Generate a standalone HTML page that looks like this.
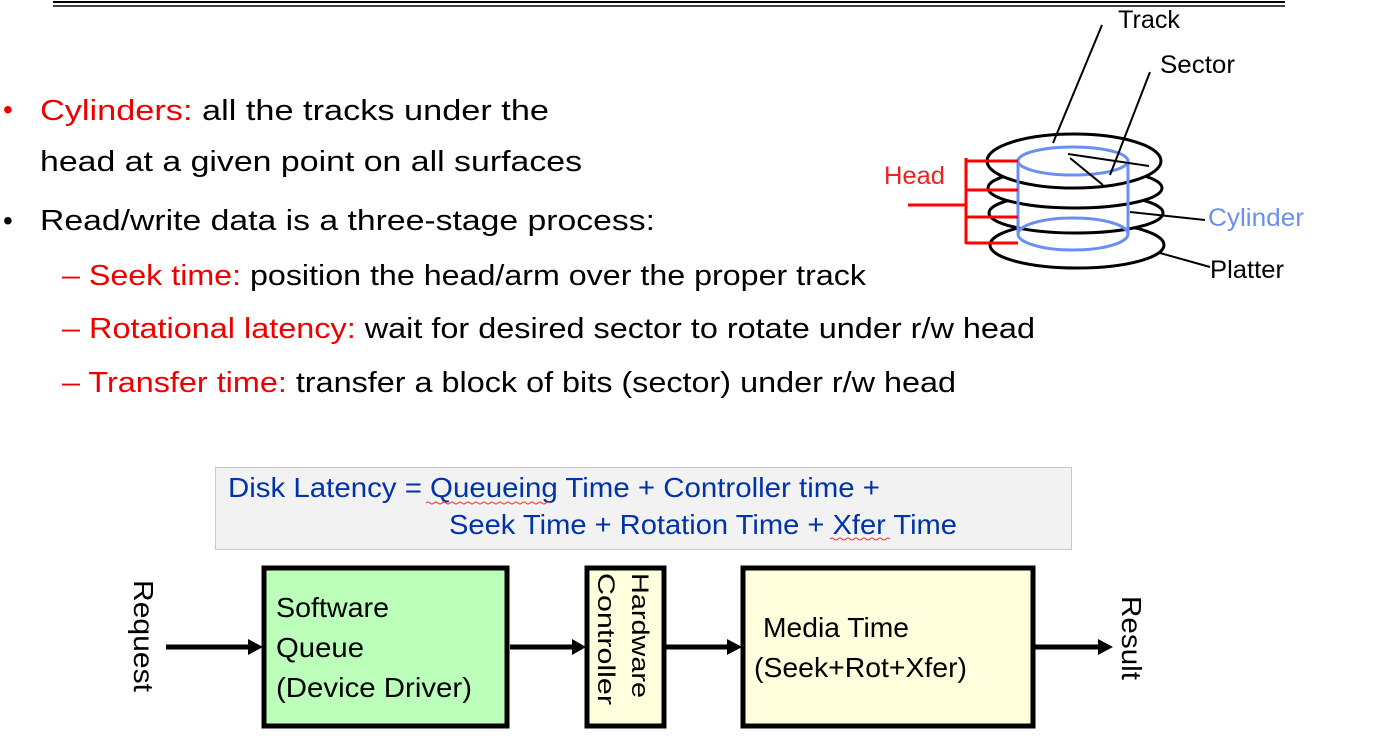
<!DOCTYPE html>
<html><head><meta charset="utf-8"><style>
html,body{margin:0;padding:0;background:#fff;}
svg{display:block;font-family:"Liberation Sans",sans-serif;}
</style></head><body>
<svg width="1393" height="745" viewBox="0 0 1393 745" xmlns="http://www.w3.org/2000/svg">
<line x1="53" y1="2" x2="1285" y2="2" stroke="#000" stroke-width="2"/>
<line x1="53" y1="6" x2="1285" y2="6" stroke="#000" stroke-width="1.5"/>

<g font-size="29" fill="#000">
<text x="3" y="119" fill="#e00" font-size="28">•</text>
<text x="40" y="120" textLength="509" lengthAdjust="spacingAndGlyphs"><tspan fill="#e00">Cylinders:</tspan> all the tracks under the</text>
<text x="40" y="171" textLength="542" lengthAdjust="spacingAndGlyphs">head at a given point on all surfaces</text>
<text x="3" y="230" font-size="28">•</text>
<text x="40" y="230" textLength="615" lengthAdjust="spacingAndGlyphs">Read/write data is a three-stage process:</text>
<text x="62" y="285" textLength="804" lengthAdjust="spacingAndGlyphs"><tspan fill="#e00">– Seek time:</tspan> position the head/arm over the proper track</text>
<text x="62" y="338" textLength="973" lengthAdjust="spacingAndGlyphs"><tspan fill="#e00">– Rotational latency:</tspan> wait for desired sector to rotate under r/w head</text>
<text x="62" y="392" textLength="894" lengthAdjust="spacingAndGlyphs"><tspan fill="#e00">– Transfer time:</tspan> transfer a block of bits (sector) under r/w head</text>
</g>

<!-- disk -->
<g fill="#fff" stroke="#000" stroke-width="3">
<ellipse cx="1077" cy="245" rx="87" ry="23"/>
<ellipse cx="1076" cy="213" rx="87" ry="20"/>
<ellipse cx="1075" cy="188" rx="87" ry="20"/>
<ellipse cx="1074" cy="161" rx="87" ry="27"/>
</g>
<g fill="none" stroke="#6b8ff0" stroke-width="3">
<ellipse cx="1073" cy="161" rx="55" ry="14"/>
<ellipse cx="1073" cy="234" rx="55" ry="16"/>
<line x1="1018" y1="161" x2="1018" y2="234"/>
<line x1="1128" y1="161" x2="1128" y2="234"/>
</g>
<g stroke="#000" stroke-width="2" fill="none">
<line x1="1102" y1="25" x2="1053" y2="143"/>
<line x1="1150" y1="72" x2="1110" y2="175"/>
<line x1="1068" y1="154" x2="1149" y2="166"/>
<line x1="1070" y1="158" x2="1103" y2="185"/>
<line x1="1130" y1="212" x2="1205" y2="220"/>
<line x1="1160" y1="253" x2="1210" y2="267"/>
</g>
<g stroke="#f00" stroke-width="3">
<line x1="966" y1="158" x2="966" y2="244"/>
<line x1="966" y1="161" x2="1018" y2="161"/>
<line x1="966" y1="190" x2="1018" y2="190"/>
<line x1="966" y1="217" x2="1018" y2="217"/>
<line x1="966" y1="243" x2="1018" y2="243"/>
<line x1="908" y1="205" x2="966" y2="205"/>
</g>
<g font-size="25">
<text x="884" y="184" fill="#e22" textLength="61" lengthAdjust="spacingAndGlyphs">Head</text>
<text x="1118" y="28" fill="#000" textLength="62" lengthAdjust="spacingAndGlyphs">Track</text>
<text x="1160" y="73" fill="#000" textLength="75" lengthAdjust="spacingAndGlyphs">Sector</text>
<text x="1208" y="226" fill="#6b8ff0" textLength="96" lengthAdjust="spacingAndGlyphs">Cylinder</text>
<text x="1210" y="278" fill="#000" textLength="74" lengthAdjust="spacingAndGlyphs">Platter</text>
</g>

<!-- formula box -->
<rect x="215.5" y="467.5" width="856" height="82" fill="#f2f2f2" stroke="#c8c8c8"/>
<g font-size="28" fill="#0033aa">
<text x="228" y="497" textLength="652" lengthAdjust="spacingAndGlyphs">Disk Latency = Queueing Time + Controller time +</text>
<text x="449" y="534" textLength="508" lengthAdjust="spacingAndGlyphs">Seek Time + Rotation Time + Xfer Time</text>
</g>
<path d="M426 503 q2 -2 4 0 t4 0 t4 0 t4 0 t4 0 t4 0 t4 0 t4 0 t4 0 t4 0 t4 0 t4 0 t4 0 t4 0 t4 0 t4 0 t4 0 t4 0 t4 0 t4 0 t4 0 t4 0 t4 0 t4 0 t4 0 t4 0 t4 0 t4 0 t4 0 t4 0 t4 0" stroke="#e33" stroke-width="1" fill="none"/>
<path d="M830 539 q2 -2 4 0 t4 0 t4 0 t4 0 t4 0 t4 0 t4 0 t4 0 t4 0 t4 0 t4 0 t4 0 t4 0 t4 0 t4 0" stroke="#e33" stroke-width="1" fill="none"/>

<!-- boxes -->
<rect x="264" y="568" width="243" height="158" fill="#bbffbb" stroke="#000" stroke-width="5"/>
<rect x="587" y="568" width="77" height="158" fill="#ffffdd" stroke="#000" stroke-width="5"/>
<rect x="743" y="568" width="290" height="158" fill="#ffffdd" stroke="#000" stroke-width="5"/>

<g stroke="#000" stroke-width="5">
<line x1="166" y1="647" x2="250" y2="647"/>
<line x1="510" y1="647" x2="574" y2="647"/>
<line x1="666" y1="647" x2="729" y2="647"/>
<line x1="1035" y1="647" x2="1100" y2="647"/>
</g>
<g fill="#000">
<polygon points="248,639 263,647 248,655"/>
<polygon points="572,639 586,647 572,655"/>
<polygon points="727,639 742,647 727,655"/>
<polygon points="1098,639 1113,647 1098,655"/>
</g>

<g font-size="28" fill="#000">
<text x="276" y="617" textLength="113" lengthAdjust="spacingAndGlyphs">Software</text>
<text x="276" y="657" textLength="88" lengthAdjust="spacingAndGlyphs">Queue</text>
<text x="276" y="697" textLength="196" lengthAdjust="spacingAndGlyphs">(Device Driver)</text>
<text x="763" y="637" textLength="146" lengthAdjust="spacingAndGlyphs">Media Time</text>
<text x="754" y="677" textLength="213" lengthAdjust="spacingAndGlyphs">(Seek+Rot+Xfer)</text>
</g>
<g font-size="24" fill="#000">
<text transform="translate(632,573) rotate(90)" textLength="125" lengthAdjust="spacingAndGlyphs">Hardware</text>
<text transform="translate(598,573) rotate(90)" textLength="132" lengthAdjust="spacingAndGlyphs">Controller</text>
<text transform="translate(134,580) rotate(90)" font-size="28" textLength="112" lengthAdjust="spacingAndGlyphs">Request</text>
<text transform="translate(1122,596) rotate(90)" font-size="28" textLength="84" lengthAdjust="spacingAndGlyphs">Result</text>
</g>
</svg>
</body></html>
